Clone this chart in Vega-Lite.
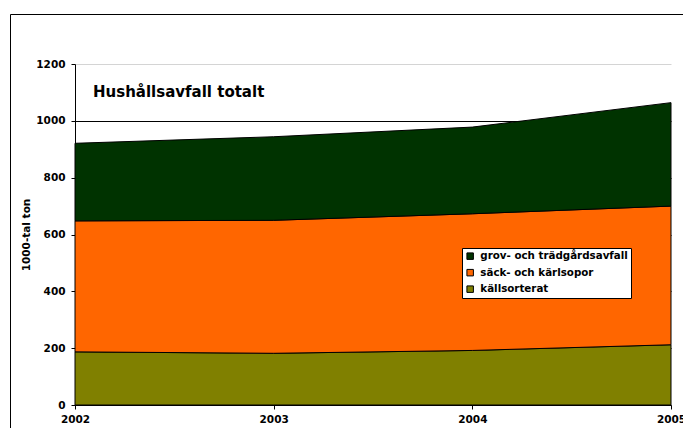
{
  "$schema": "https://vega.github.io/schema/vega-lite/v6.json",
  "usermeta": {"embedOptions": {"actions": false}},
  "width": 674,
  "height": 415,
  "autosize": {"type": "none"},
  "padding": {"left": 10, "top": 14, "right": 0, "bottom": 0},
  "background": "white",
  "config": {
    "view": {"stroke": "black", "strokeWidth": 1},
    "font": "DejaVu Sans"
  },
  "title": {
    "text": "Hushållsavfall totalt",
    "anchor": "start",
    "frame": "group",
    "orient": "top",
    "offset": -86,
    "dx": 83,
    "font": "DejaVu Sans",
    "fontSize": 15,
    "fontWeight": "bold",
    "color": "black"
  },
  "data": {
    "values": [
      {"year": 2002, "cat": "källsorterat", "k": 1, "value": 187},
      {"year": 2002, "cat": "säck- och kärlsopor", "k": 2, "value": 461},
      {"year": 2002, "cat": "grov- och trädgårdsavfall", "k": 3, "value": 273},
      {"year": 2003, "cat": "källsorterat", "k": 1, "value": 182},
      {"year": 2003, "cat": "säck- och kärlsopor", "k": 2, "value": 468},
      {"year": 2003, "cat": "grov- och trädgårdsavfall", "k": 3, "value": 294},
      {"year": 2004, "cat": "källsorterat", "k": 1, "value": 192},
      {"year": 2004, "cat": "säck- och kärlsopor", "k": 2, "value": 481},
      {"year": 2004, "cat": "grov- och trädgårdsavfall", "k": 3, "value": 305},
      {"year": 2005, "cat": "källsorterat", "k": 1, "value": 212},
      {"year": 2005, "cat": "säck- och kärlsopor", "k": 2, "value": 488},
      {"year": 2005, "cat": "grov- och trädgårdsavfall", "k": 3, "value": 364}
    ]
  },
  "mark": {"type": "area", "stroke": "black", "strokeWidth": 1, "interpolate": "linear"},
  "encoding": {
    "x": {
      "field": "year",
      "type": "quantitative",
      "scale": {"domain": [2002, 2005], "range": [65, 661], "nice": false, "zero": false},
      "axis": {
        "values": [2002, 2003, 2004, 2005],
        "format": "d",
        "offset": -24,
        "title": null,
        "domainColor": "black",
        "tickColor": "black",
        "tickSize": 4,
        "labelPadding": 5,
        "labelFont": "DejaVu Sans",
        "labelFontSize": 10.5,
        "labelFontWeight": "bold",
        "labelColor": "black",
        "labelFlush": false,
        "labelOverlap": false,
        "grid": false
      }
    },
    "y": {
      "field": "value",
      "type": "quantitative",
      "stack": "zero",
      "scale": {"domain": [0, 1200], "range": [391, 50], "nice": false},
      "axis": {
        "values": [0, 200, 400, 600, 800, 1000, 1200],
        "format": "d",
        "offset": -65,
        "title": "1000-tal ton",
        "titleFont": "DejaVu Sans",
        "titleFontSize": 10.5,
        "titleFontWeight": "bold",
        "titleColor": "black",
        "titlePadding": 4,
        "domainColor": "black",
        "tickColor": "black",
        "tickSize": 4,
        "labelPadding": 6,
        "labelFont": "DejaVu Sans",
        "labelFontSize": 10.5,
        "labelFontWeight": "bold",
        "labelColor": "black",
        "labelOverlap": false,
        "grid": true,
        "gridColor": {"condition": {"test": "datum.value === 1200", "value": "#d4d4d4"}, "value": "black"}
      }
    },
    "color": {
      "field": "cat",
      "type": "nominal",
      "scale": {
        "domain": ["grov- och trädgårdsavfall", "säck- och kärlsopor", "källsorterat"],
        "range": ["#003300", "#FF6600", "#808000"]
      },
      "legend": {
        "title": null,
        "orient": "none",
        "legendX": 452,
        "legendY": 234,
        "direction": "vertical",
        "fillColor": "white",
        "strokeColor": "black",
        "padding": 3,
        "rowPadding": 4.5,
        "symbolType": "square",
        "symbolSize": 42,
        "symbolStrokeColor": "black",
        "symbolStrokeWidth": 1,
        "symbolOpacity": 1,
        "labelFont": "DejaVu Sans",
        "labelFontSize": 10.3,
        "labelFontWeight": "bold",
        "labelColor": "black",
        "labelOffset": 5,
        "labelLimit": 300
      }
    },
    "order": {"field": "k", "type": "quantitative", "sort": "ascending"}
  }
}
